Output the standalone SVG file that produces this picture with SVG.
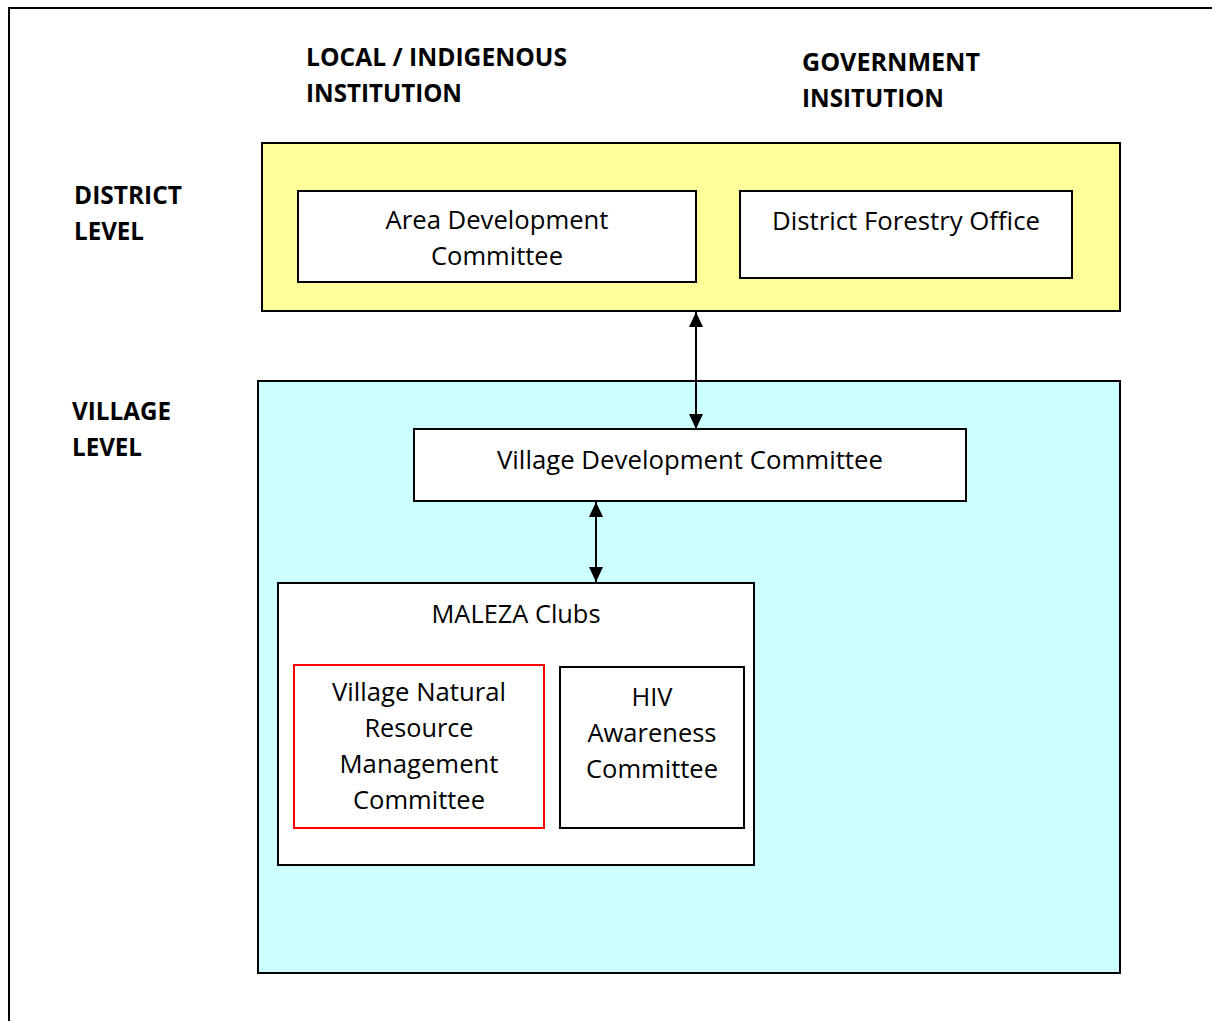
<svg xmlns="http://www.w3.org/2000/svg" width="1212" height="1021" viewBox="0 0 1212 1021">
<defs>
<marker id="ah" viewBox="0 0 15 14" refX="15" refY="7" markerWidth="15" markerHeight="14" markerUnits="userSpaceOnUse" orient="auto-start-reverse">
<path d="M0,0 L15,7 L0,14 Z" fill="#000"/>
</marker>
<style>
.t{font-family:"Open Sans","Noto Sans",sans-serif;font-size:26px;fill:#000}
.h{font-family:"Open Sans","Noto Sans",sans-serif;font-size:25px;font-weight:bold;fill:#000}
.box{fill:#fff;stroke:#000;stroke-width:2}
.c{stroke:#000;stroke-width:2;fill:none}
</style>
</defs>
<rect width="1212" height="1021" fill="#fff"/>
<g id="frame"><path d="M9,1021 V8 H1212" fill="none" stroke="#000" stroke-width="2"/></g>
<g id="headers">
<text class="h" x="306" y="66" textLength="261" lengthAdjust="spacingAndGlyphs">LOCAL / INDIGENOUS</text>
<text class="h" x="306" y="102" textLength="156" lengthAdjust="spacingAndGlyphs">INSTITUTION</text>
<text class="h" x="802" y="71" textLength="178" lengthAdjust="spacingAndGlyphs">GOVERNMENT</text>
<text class="h" x="802" y="107" textLength="142" lengthAdjust="spacingAndGlyphs">INSITUTION</text>
<text class="h" x="74" y="204" textLength="108" lengthAdjust="spacingAndGlyphs">DISTRICT</text>
<text class="h" x="74" y="240" textLength="70" lengthAdjust="spacingAndGlyphs">LEVEL</text>
<text class="h" x="72" y="420" textLength="99" lengthAdjust="spacingAndGlyphs">VILLAGE</text>
<text class="h" x="72" y="456" textLength="70" lengthAdjust="spacingAndGlyphs">LEVEL</text>
</g>
<g id="district-level"><rect x="262" y="143" width="858" height="168" fill="#FFFF99" stroke="#000" stroke-width="2"/></g>
<g id="village-level"><rect x="258" y="381" width="862" height="592" fill="#CCFFFF" stroke="#000" stroke-width="2"/></g>
<g id="adc">
<rect class="box" x="298" y="191" width="398" height="91"/>
<text class="t" x="497" y="229" text-anchor="middle" textLength="223" lengthAdjust="spacingAndGlyphs">Area Development</text>
<text class="t" x="497" y="265" text-anchor="middle" textLength="132" lengthAdjust="spacingAndGlyphs">Committee</text>
</g>
<g id="dfo">
<rect class="box" x="740" y="191" width="332" height="87"/>
<text class="t" x="906" y="230" text-anchor="middle" textLength="268" lengthAdjust="spacingAndGlyphs">District Forestry Office</text>
</g>
<g id="vdc">
<rect class="box" x="414" y="429" width="552" height="72"/>
<text class="t" x="690" y="469" text-anchor="middle" textLength="386" lengthAdjust="spacingAndGlyphs">Village Development Committee</text>
</g>
<g id="maleza">
<rect class="box" x="278" y="583" width="476" height="282"/>
<text class="t" x="516" y="623" text-anchor="middle" textLength="169" lengthAdjust="spacingAndGlyphs">MALEZA Clubs</text>
</g>
<g id="vnrmc">
<rect x="294" y="665" width="250" height="163" fill="#fff" stroke="#FF0000" stroke-width="2"/>
<text class="t" x="419" y="701" text-anchor="middle" textLength="174" lengthAdjust="spacingAndGlyphs">Village Natural</text>
<text class="t" x="419" y="737" text-anchor="middle" textLength="109" lengthAdjust="spacingAndGlyphs">Resource</text>
<text class="t" x="419" y="773" text-anchor="middle" textLength="159" lengthAdjust="spacingAndGlyphs">Management</text>
<text class="t" x="419" y="809" text-anchor="middle" textLength="132" lengthAdjust="spacingAndGlyphs">Committee</text>
</g>
<g id="hiv">
<rect class="box" x="560" y="667" width="184" height="161"/>
<text class="t" x="652" y="706" text-anchor="middle" textLength="41" lengthAdjust="spacingAndGlyphs">HIV</text>
<text class="t" x="652" y="742" text-anchor="middle" textLength="129" lengthAdjust="spacingAndGlyphs">Awareness</text>
<text class="t" x="652" y="778" text-anchor="middle" textLength="132" lengthAdjust="spacingAndGlyphs">Committee</text>
</g>
<g id="connectors">
<line class="c" x1="696" y1="312" x2="696" y2="429" marker-start="url(#ah)" marker-end="url(#ah)"/>
<line class="c" x1="596" y1="502" x2="596" y2="582" marker-start="url(#ah)" marker-end="url(#ah)"/>
</g>
</svg>
